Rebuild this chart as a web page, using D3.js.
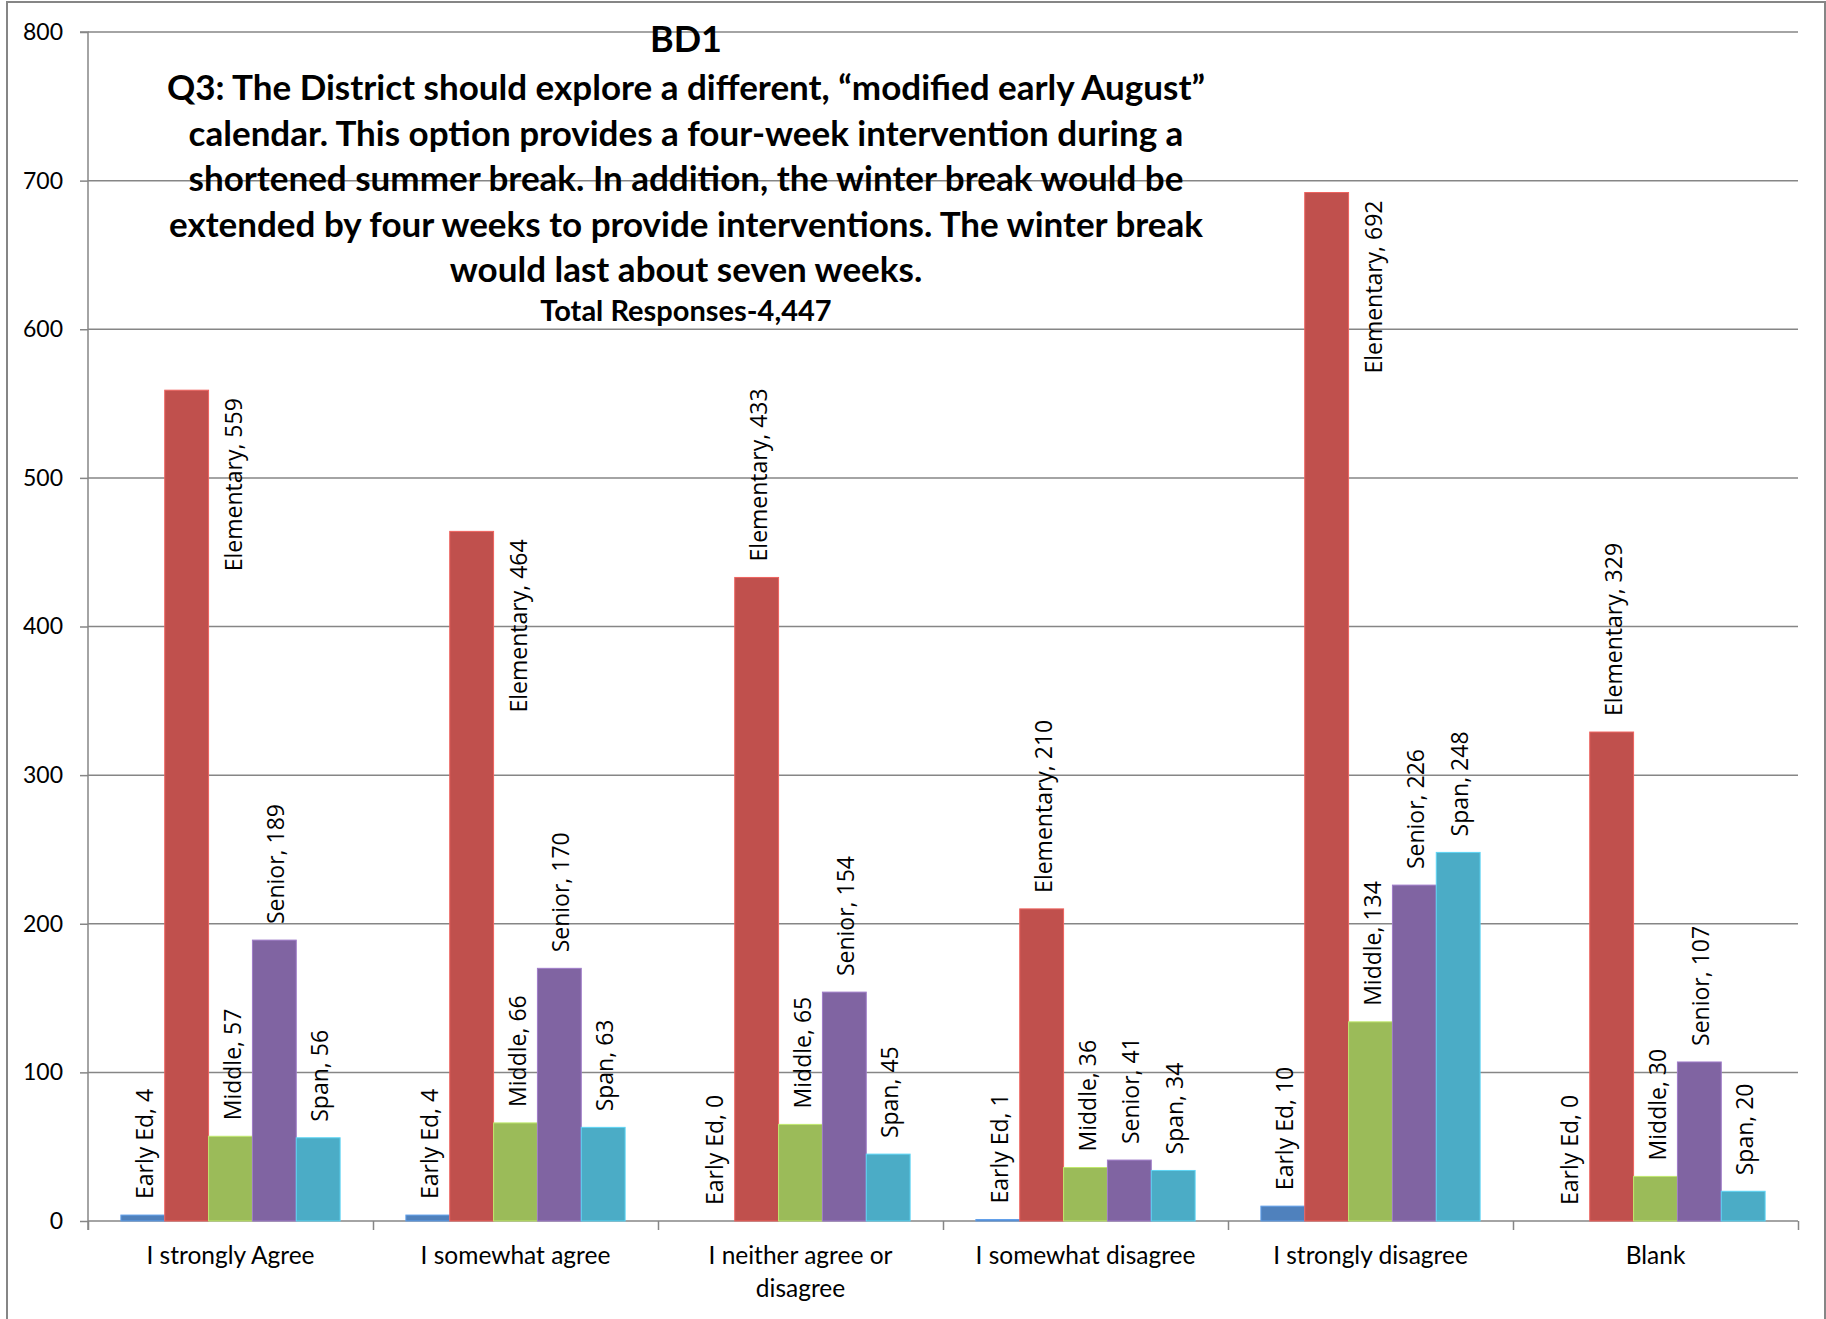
<!DOCTYPE html>
<html><head><meta charset="utf-8">
<script src="https://cdn.jsdelivr.net/npm/d3@7"></script>
<style>body{margin:0;background:#fff;overflow:hidden} svg{display:block}</style>
</head><body>
<script>
// ---- data ----
const categories = ["I strongly Agree","I somewhat agree","I neither agree or disagree","I somewhat disagree","I strongly disagree","Blank"];
const seriesNames = ["Early Ed","Elementary","Middle","Senior","Span"];
const earlyEd   = [4, 4, 0, 1, 10, 0];
const elementary = [559, 464, 433, 210, 692, 329];
const middle    = [57, 66, 65, 36, 134, 30];
const senior    = [189, 170, 154, 41, 226, 107];
const span      = [56, 63, 45, 34, 248, 20];
const yTicks = [0, 100, 200, 300, 400, 500, 600, 700, 800];
const chartTitle = "BD1";
const titleLines = [
  "Q3: The District should explore a different, \u201Cmodified early August\u201D",
  "calendar. This option provides a four-week intervention during a",
  "shortened summer break. In addition, the winter break would be",
  "extended by four weeks to provide interventions. The winter break",
  "would last about seven weeks."
];
const subtitle = "Total Responses-4,447";

const seriesValues = [earlyEd, elementary, middle, senior, span];
const colors = ["#4F81BD", "#C0504D", "#9BBB59", "#8064A2", "#4BACC6"];

// ---- layout ----
const W = 1826, H = 1319;
const plot = {left: 88, right: 1798, top: 32, bottom: 1221};
const gridColor = "#868686";
const labelFont = "'Open Sans', sans-serif";
const calFont = "Lato, 'Open Sans', sans-serif";

const svg = d3.select("body").append("svg").attr("width", W).attr("height", H);

// outer chart border
svg.append("rect").attr("x", 7).attr("y", 2).attr("width", 1818).attr("height", H + 10)
  .attr("fill", "none").attr("stroke", gridColor).attr("stroke-width", 2);

const x0 = d3.scaleBand().domain(categories).range([plot.left, plot.right]).paddingInner(0).paddingOuter(0);
const x1 = d3.scaleBand().domain(seriesNames).range([0, x0.bandwidth()]).paddingInner(0).paddingOuter(0.75);
const y = d3.scaleLinear().domain([0, 800]).range([plot.bottom, plot.top]);

// gridlines
svg.append("g").selectAll("line").data(yTicks.filter(d => d > 0)).join("line")
  .attr("x1", plot.left).attr("x2", plot.right)
  .attr("y1", d => y(d)).attr("y2", d => y(d))
  .attr("stroke", gridColor).attr("stroke-width", 1.5);

// y axis
const yAxis = svg.append("g").attr("transform", `translate(${plot.left},0)`)
  .call(d3.axisLeft(y).tickValues(yTicks).tickSize(8).tickPadding(17).tickFormat(d3.format("d")));
yAxis.select(".domain").attr("stroke", gridColor).attr("stroke-width", 1.5).attr("d", `M-8,${plot.top}H0V${plot.bottom + 9}`);
yAxis.selectAll(".tick line").attr("stroke", gridColor).attr("stroke-width", 1.5);
yAxis.selectAll(".tick text").attr("font-family", calFont).attr("font-size", 23).attr("fill", "#000");

// x axis boundary ticks
const bScale = d3.scaleLinear().domain([0, categories.length]).range([plot.left, plot.right]);
const xAxis = svg.append("g").attr("transform", `translate(0,${plot.bottom})`)
  .call(d3.axisBottom(bScale).ticks(categories.length).tickSize(9).tickFormat(""));
xAxis.select(".domain").attr("stroke", gridColor).attr("stroke-width", 1.5).attr("d", `M${plot.left},0H${plot.right}`);
xAxis.selectAll(".tick line").attr("stroke", gridColor).attr("stroke-width", 1.5);

// category labels
const catG = svg.append("g");
categories.forEach(c => {
  const cx = x0(c) + x0.bandwidth() / 2;
  const t = catG.append("text").attr("x", cx).attr("y", plot.bottom + 43)
    .attr("text-anchor", "middle").attr("font-family", calFont).attr("font-size", 24.5).attr("fill", "#000");
  const words = c.split(" ");
  let line = [];
  let ts = t.append("tspan").attr("x", cx).attr("dy", 0);
  words.forEach(w => {
    line.push(w);
    ts.text(line.join(" "));
    if (ts.node().getComputedTextLength() > 250 && line.length > 1) {
      line.pop(); ts.text(line.join(" "));
      line = [w];
      ts = t.append("tspan").attr("x", cx).attr("dy", 33).text(w);
    }
  });
});

// bars
const barsG = svg.append("g");
const labelsG = svg.append("g");
const titleBox = {x0: 150, x1: 1225, bottom: 360};
seriesNames.forEach((s, si) => {
  categories.forEach((c, ci) => {
    const v = seriesValues[si][ci];
    const bx = x0(c) + x1(s), bw = x1.bandwidth();
    barsG.append("rect").attr("x", bx).attr("y", y(v)).attr("width", bw).attr("height", y(0) - y(v))
      .attr("fill", colors[si]).attr("stroke", d3.color(colors[si]).brighter(0.6)).attr("stroke-width", 1);
    const lab = labelsG.append("text").text(`${s}, ${v}`)
      .attr("font-family", labelFont).attr("font-size", 23).attr("fill", "#000")
      .attr("dominant-baseline", "central");
    const len = lab.node().getComputedTextLength();
    const cx = bx + bw / 2;
    const topAbove = y(v) - 16 - len;
    const hitsTitle = cx > titleBox.x0 && cx < titleBox.x1 && topAbove < titleBox.bottom;
    if (topAbove < plot.top || hitsTitle) {
      const lx = bx + bw + 24, ly = y(v) + 8;
      lab.attr("text-anchor", "end").attr("transform", `translate(${lx},${ly}) rotate(-90)`);
    } else {
      lab.attr("text-anchor", "start").attr("transform", `translate(${cx + 1},${y(v) - 16}) rotate(-90)`);
    }
  });
});

// titles
const tG = svg.append("g").attr("font-family", calFont).attr("font-weight", "bold").attr("fill", "#000").attr("text-anchor", "middle");
const tcx = 686;
tG.append("text").attr("x", tcx).attr("y", 52).attr("font-size", 36).text(chartTitle);
titleLines.forEach((l, i) => {
  tG.append("text").attr("x", tcx).attr("y", 100 + i * 45.6).attr("font-size", 35).text(l);
});
tG.append("text").attr("x", tcx).attr("y", 321).attr("font-size", 29).text(subtitle);
</script>
</body></html>
